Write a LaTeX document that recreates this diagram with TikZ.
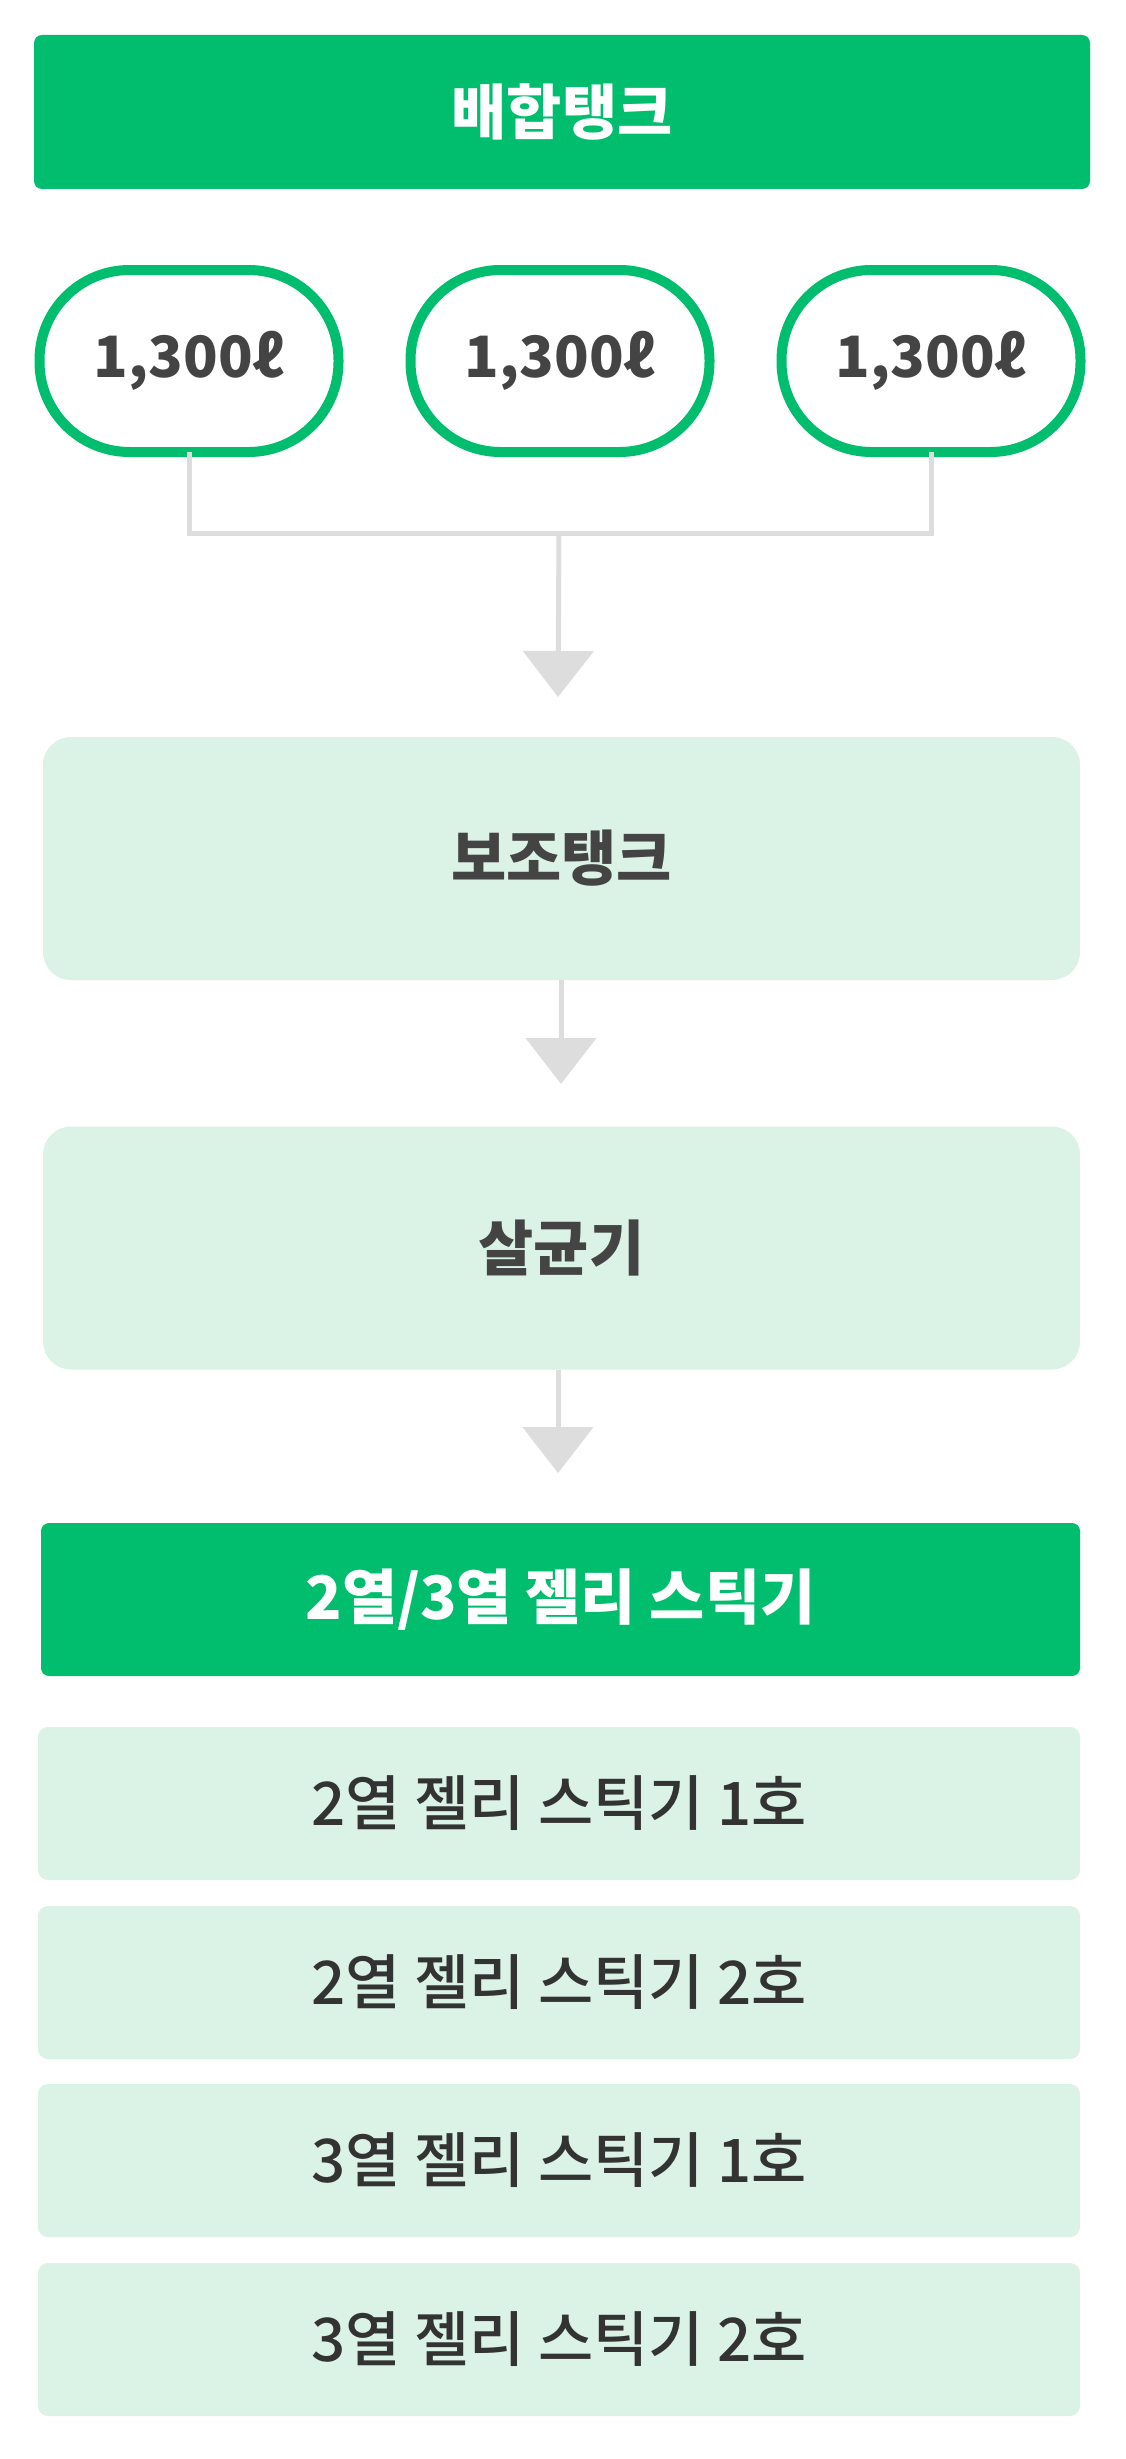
\documentclass[tikz,border=0pt]{standalone}
\usepackage{fontspec}
\newfontfamily\kr{Noto Sans CJK KR}
\newfontfamily\krmed{Noto Sans CJK KR Medium}
\usetikzlibrary{arrows.meta}
\definecolor{brand}{HTML}{00BE6E}
\definecolor{pale}{HTML}{DBF2E7}
\definecolor{ink}{HTML}{444444}
\definecolor{ink2}{HTML}{333333}
\definecolor{wire}{HTML}{DDDDDD}
\begin{document}
\begin{tikzpicture}[x=1pt,y=-1pt,
  every node/.style={inner sep=0pt, outer sep=0pt},
  greenbar/.style={fill=brand, rounded corners=8pt, minimum width=1056pt, minimum height=154pt,
    text=white, font=\kr\bfseries\fontsize{60}{66}\selectfont},
  pill/.style={draw=brand, line width=10pt, fill=white, rounded corners=90pt,
    minimum width=299pt, minimum height=182pt, text=ink, font=\kr\bfseries\fontsize{57}{63}\selectfont},
  bigbox/.style={fill=pale, rounded corners=28pt, minimum width=1037pt, minimum height=243pt,
    text=ink, font=\kr\bfseries\fontsize{60}{66}\selectfont},
  itembox/.style={fill=pale, rounded corners=10pt, minimum width=1042pt, minimum height=153pt,
    text=ink2, font=\krmed\fontsize{60}{66}\selectfont},
  wireline/.style={draw=wire, line width=5pt},
  flow/.style={wireline, -{Triangle[width=70pt,length=46pt]}, wire}
]
\useasboundingbox (0,0) rectangle (1125,2459);
\fill[white] (0,0) rectangle (1125,2459);

\node[greenbar] (mix) at (562,112) {배합탱크};

\coordinate (hub) at (559,533);
\coordinate (tip1) at (558,697);
\coordinate (tip2) at (561,1084);
\coordinate (tip3) at (558,1473);

\node[pill] (p1) at (189,361) {1,300ℓ};
\node[pill] (p2) at (560,361) {1,300ℓ};
\node[pill] (p3) at (931,361) {1,300ℓ};

\draw[wireline] (p1.south) |- (hub) -| (p3.south);
\draw[flow] (hub) -- (tip1);

\node[bigbox] (sub) at (561.5,858.5) {보조탱크};
\node[bigbox] (ster) at (561.5,1248) {살균기};
\draw[flow] (sub.south -| tip2) -- (tip2);
\draw[flow] (ster.south -| tip3) -- (tip3);

\node[greenbar, minimum width=1039pt, minimum height=153pt] (jelly) at (560.5,1599.5) {2열/3열 젤리 스틱기};

\node[itembox] (i1) at (559,1803.5) {2열 젤리 스틱기 1호};
\node[itembox] (i2) at (559,1982.5) {2열 젤리 스틱기 2호};
\node[itembox] (i3) at (559,2160.5) {3열 젤리 스틱기 1호};
\node[itembox] (i4) at (559,2339.5) {3열 젤리 스틱기 2호};
\end{tikzpicture}
\end{document}
